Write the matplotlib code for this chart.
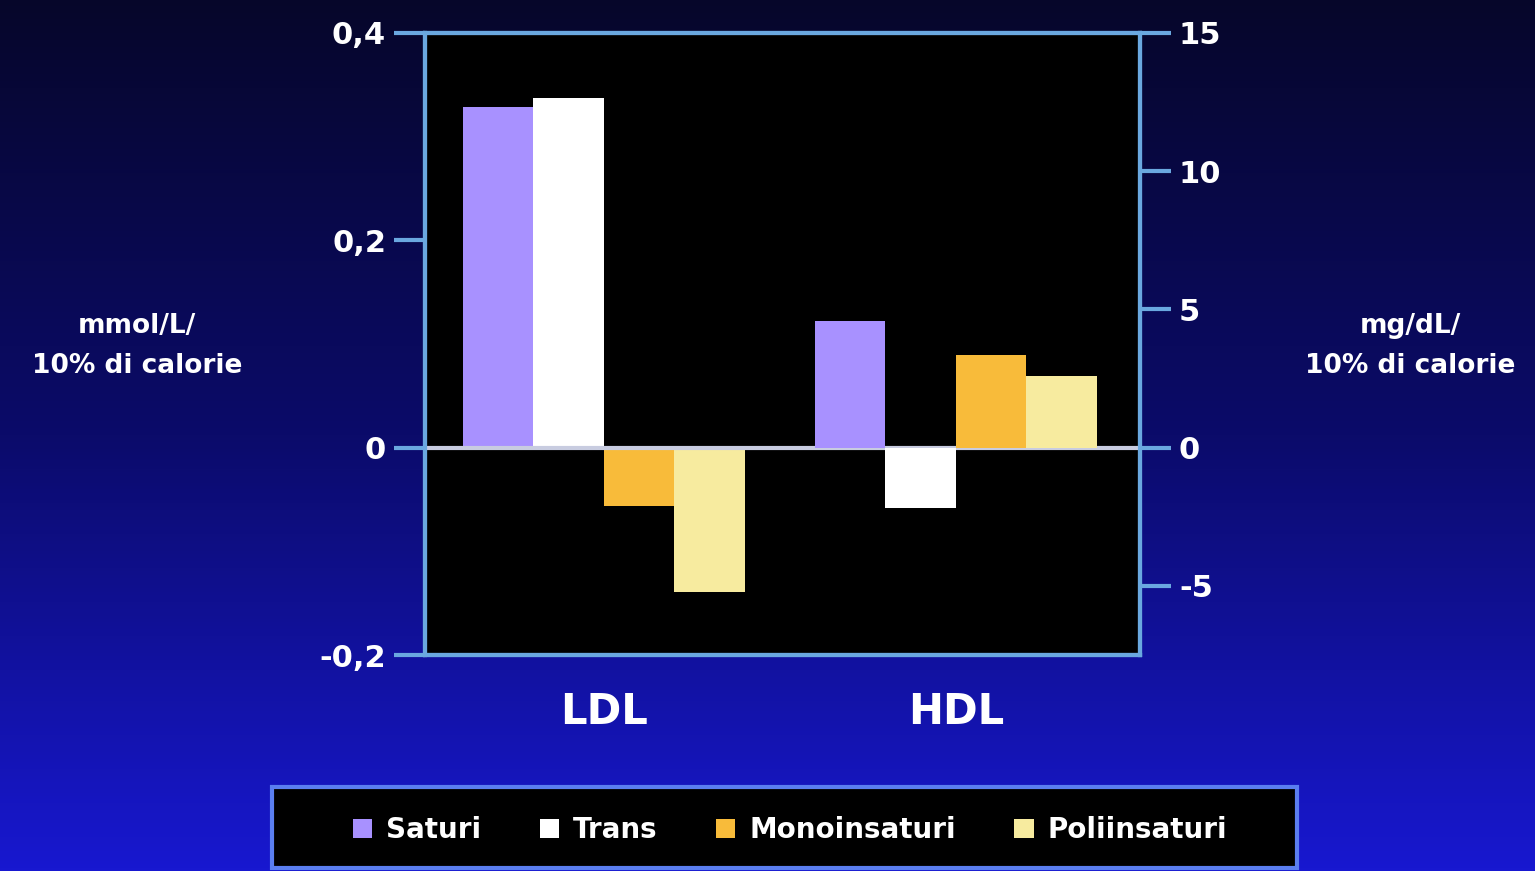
import numpy as np
import matplotlib
matplotlib.use("Agg")
import matplotlib.pyplot as plt
from matplotlib.colors import LinearSegmentedColormap
from matplotlib.patches import Patch, Rectangle

# ---- data ----
groups = ["LDL", "HDL"]
series = ["Saturi", "Trans", "Monoinsaturi", "Poliinsaturi"]
ldl_mmol = [0.329, 0.337, -0.056, -0.139]      # left axis (mmol/L / 10% calorie)
hdl_mg = [4.6, -2.2, 3.35, 2.6]                # right axis (mg/dL / 10% calorie)
colors = ["#a891ff", "#ffffff", "#f8bb3a", "#f7eb9f"]
left_ticks = [-0.2, 0, 0.2, 0.4]
left_ticklabels = ["-0,2", "0", "0,2", "0,4"]
right_ticks = [-5, 0, 5, 10, 15]
right_ticklabels = ["-5", "0", "5", "10", "15"]

FONT = ["DejaVu Sans"]
plt.rcParams["font.family"] = FONT
plt.rcParams["font.weight"] = "bold"

W, H = 1535, 871
fig = plt.figure(figsize=(W / 100, H / 100), dpi=100)

# background gradient
bg = fig.add_axes([0, 0, 1, 1], zorder=-10)
cmap = LinearSegmentedColormap.from_list("bg", ["#06062a", "#0b0b6a", "#1818d0"])
grad = np.linspace(0, 1, 256).reshape(-1, 1)
bg.imshow(grad, aspect="auto", cmap=cmap, extent=[0, 1, 0, 1], origin="upper")
bg.set_xlim(0, 1)
bg.set_ylim(0, 1)
bg.axis("off")

# legend box
bg.add_patch(Rectangle((272 / W, 1 - 868 / H), (1297 - 272) / W, (868 - 787) / H,
                       facecolor="black", edgecolor="#5a7ef0", lw=3, zorder=2))

spine_c = "#6aa8e0"
ax = fig.add_axes([425 / W, 1 - 655 / H, (1140 - 425) / W, (655 - 33) / H])
ax.set_facecolor("black")
ax2 = ax.twinx()

x = np.arange(len(groups))
w = 0.2
offs = (np.arange(len(series)) - 1.5) * w
for i, s in enumerate(series):
    ax.bar(x[0] + offs[i], ldl_mmol[i], width=w, color=colors[i], zorder=3)
    ax2.bar(x[1] + offs[i], hdl_mg[i], width=w, color=colors[i], zorder=3)

ax.set_xlim(-0.508, 1.523)
ax.set_ylim(-0.2, 0.4)
ax2.set_ylim(-7.5, 15)
ax.axhline(0, color="#c8cce0", lw=3, zorder=4)

ax.set_yticks(left_ticks)
ax.set_yticklabels(left_ticklabels)
ax2.set_yticks(right_ticks)
ax2.set_yticklabels(right_ticklabels)
ax.set_xticks([])
for a in (ax, ax2):
    for sp in a.spines.values():
        sp.set_color(spine_c)
        sp.set_linewidth(3)
    a.tick_params(axis="y", colors=spine_c, length=22, width=3, labelsize=22,
                  labelcolor="white", pad=6)
    for lab in a.get_yticklabels():
        lab.set_fontweight("bold")

for gx, g in zip(x, groups):
    ax.text(gx, -0.2 - 0.055, g, ha="center", va="center", color="white",
            fontsize=30, fontweight="bold", transform=ax.transData)

fig.text(137 / W, 1 - 346 / H, "mmol/L/\n10% di calorie", ha="center", va="center",
         color="white", fontsize=19, fontweight="bold", linespacing=1.7)
fig.text(1410 / W, 1 - 346 / H, "mg/dL/\n10% di calorie", ha="center", va="center",
         color="white", fontsize=19, fontweight="bold", linespacing=1.7)

handles = [Patch(facecolor=c, edgecolor="none") for c in colors]
leg = fig.legend(handles, series, loc="center", bbox_to_anchor=(790 / W, 1 - 830 / H),
                 ncol=4, frameon=False, fontsize=20, handlelength=0.7, handleheight=0.7,
                 handletextpad=0.5, columnspacing=2.1)
for t in leg.get_texts():
    t.set_color("white")
    t.set_fontweight("bold")

fig.savefig("out.png", dpi=100)
